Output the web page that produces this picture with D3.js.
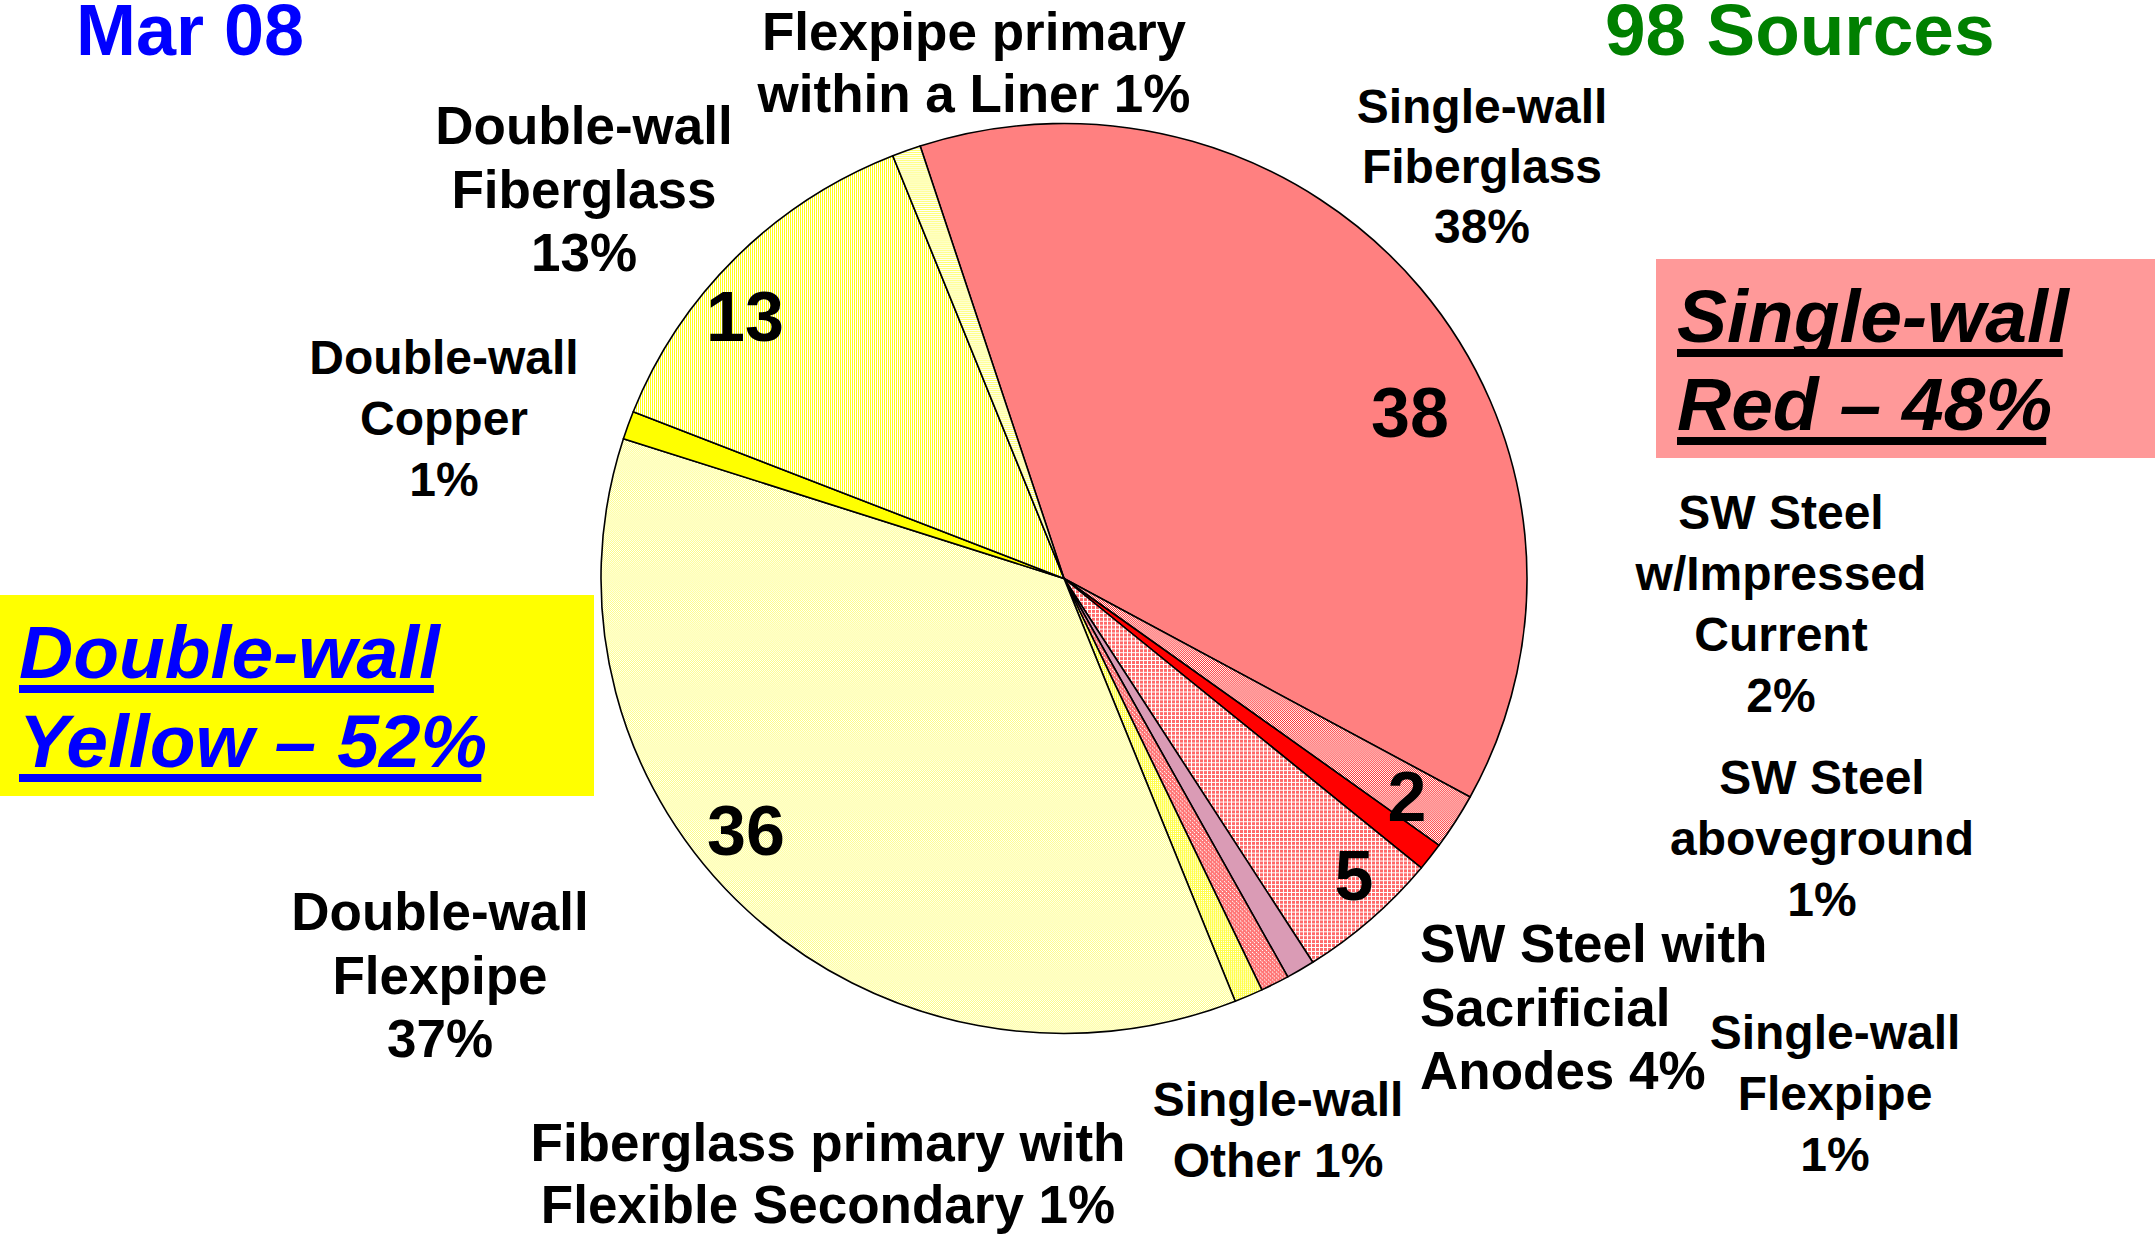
<!DOCTYPE html>
<html>
<head>
<meta charset="utf-8">
<script src="https://cdn.jsdelivr.net/npm/d3@7"></script>
<style>
  body { margin: 0; background: #fff; }
  svg text { font-family: "Liberation Sans", Arial, sans-serif; font-weight: bold; }
</style>
</head>
<body>
<script>
'use strict';

// slice data, clockwise from the top (start angle is rotated a bit left of 12 o'clock)
const categories = [
  "Single-wall Fiberglass",
  "SW Steel w/Impressed Current",
  "SW Steel aboveground",
  "SW Steel with Sacrificial Anodes",
  "Single-wall Flexpipe",
  "Single-wall Other",
  "Fiberglass primary with Flexible Secondary",
  "Double-wall Flexpipe",
  "Double-wall Copper",
  "Double-wall Fiberglass",
  "Flexpipe primary within a Liner"
];
const values = [38, 2, 1, 5, 1, 1, 1, 36, 1, 13, 1];
const fills = ["#FF8080", "url(#pImpressed)", "#FF0000", "url(#pSacrificial)", "#DA9BB5",
               "url(#pOther)", "url(#pFlexSec)", "url(#pDWFlex)", "#FFFF00", "url(#pDWFG)", "url(#pLiner)"];

// outside labels (lines) for each slice, same order as categories
const labelLines = [
  ["Single-wall", "Fiberglass", "38%"],
  ["SW Steel", "w/Impressed", "Current", "2%"],
  ["SW Steel", "aboveground", "1%"],
  ["SW Steel with", "Sacrificial", "Anodes 4%"],
  ["Single-wall", "Flexpipe", "1%"],
  ["Single-wall", "Other 1%"],
  ["Fiberglass primary with", "Flexible Secondary 1%"],
  ["Double-wall", "Flexpipe", "37%"],
  ["Double-wall", "Copper", "1%"],
  ["Double-wall", "Fiberglass", "13%"],
  ["Flexpipe primary", "within a Liner 1%"]
];
// value labels drawn inside the slices
const valueLabels = ["38", "2", "", "5", "", "", "", "36", "", "13", ""];

const width = 2155, height = 1235;
const cx = 1064, cy = 578.5, rx = 463, ry = 455;
const startAngle = -18.1 * Math.PI / 180;

// label layout: [x, first baseline, font size, line step, anchor]
const labelLayout = [
  [1482, 123, 48, 60, "middle"],
  [1781, 529, 48, 61, "middle"],
  [1822, 794, 48, 61, "middle"],
  [1420, 962, 53, 63.5, "start"],
  [1835, 1049, 48, 61, "middle"],
  [1278, 1116, 48, 61, "middle"],
  [828, 1161, 53, 62, "middle"],
  [440, 930, 53, 63.5, "middle"],
  [444, 374, 48, 61, "middle"],
  [584, 144, 53, 63.5, "middle"],
  [974, 50, 53, 62, "middle"]
];
const valueLayout = [[1410, 437], [1407, 821], null, [1354, 900], null, null, null,
                     [746, 855], null, [745, 341], null];

const svg = d3.select("body").append("svg")
  .attr("width", width)
  .attr("height", height);

// fill patterns
const defs = svg.append("defs");
function makePattern(id, w, h, bg, cells) {
  const p = defs.append("pattern")
    .attr("id", id)
    .attr("patternUnits", "userSpaceOnUse")
    .attr("width", w).attr("height", h);
  p.append("rect").attr("width", w).attr("height", h).attr("fill", bg);
  cells.forEach(c => {
    p.append("rect")
      .attr("x", c[0]).attr("y", c[1])
      .attr("width", c[2]).attr("height", c[3])
      .attr("fill", c[4])
      .attr("shape-rendering", "crispEdges");
  });
}
makePattern("pImpressed", 2, 2, "#fff", [[0, 0, 1, 1, "#FF3030"], [1, 1, 1, 1, "#FF3030"]]);
makePattern("pSacrificial", 4, 4, "#fff", [[0, 0, 3, 3, "#FF6A6A"]]);
makePattern("pOther", 4, 4, "#FF7878", [[0, 0, 1, 1, "#fff"], [2, 2, 1, 1, "#fff"], [1, 1, 1, 1, "#FFB0B0"]]);
makePattern("pFlexSec", 2, 2, "#FFFF50", [[1, 1, 1, 1, "#fff"]]);
makePattern("pDWFlex", 2, 2, "#fff", [[0, 0, 1, 1, "#FFFF80"], [1, 1, 1, 1, "#FFFF80"]]);
makePattern("pDWFG", 2, 2, "#fff", [[0, 0, 1, 2, "#FFFF20"]]);
makePattern("pLiner", 2, 2, "#fff", [[0, 0, 2, 1, "#FFFF70"]]);

// pie
const pie = d3.pie()
  .sort(null)
  .value(d => d)
  .startAngle(startAngle)
  .endAngle(startAngle + 2 * Math.PI);
const arc = d3.arc().innerRadius(0).outerRadius(rx);

svg.append("g")
  .attr("transform", `translate(${cx},${cy}) scale(1,${ry / rx})`)
  .selectAll("path")
  .data(pie(values))
  .enter()
  .append("path")
    .attr("d", arc)
    .attr("fill", (d, i) => fills[i])
    .attr("stroke", "#000")
    .attr("stroke-width", 1.6)
    .attr("stroke-linejoin", "round")
    .attr("vector-effect", "non-scaling-stroke");

// value labels inside
valueLabels.forEach((t, i) => {
  if (!t) return;
  svg.append("text")
    .attr("x", valueLayout[i][0])
    .attr("y", valueLayout[i][1])
    .attr("text-anchor", "middle")
    .style("font-size", "70px")
    .attr("fill", "#000")
    .text(t);
});

// outside category labels
labelLines.forEach((lines, i) => {
  const l = labelLayout[i];
  const t = svg.append("text")
    .attr("text-anchor", l[4])
    .style("font-size", l[2] + "px")
    .attr("fill", "#000");
  lines.forEach((s, k) => {
    t.append("tspan")
      .attr("x", l[0])
      .attr("y", l[1] + k * l[3])
      .text(s);
  });
});

// titles
svg.append("text")
  .attr("x", 76).attr("y", 55)
  .style("font-size", "72px")
  .attr("fill", "#0000FF")
  .text("Mar 08");
svg.append("text")
  .attr("x", 1605).attr("y", 55)
  .style("font-size", "73px")
  .attr("fill", "#008000")
  .text("98 Sources");

// summary boxes with underlined italic text
function summaryBox(box, color, textColor, lines, x, baselines) {
  svg.append("rect")
    .attr("x", box[0]).attr("y", box[1])
    .attr("width", box[2]).attr("height", box[3])
    .attr("fill", color);
  lines.forEach((s, k) => {
    const t = svg.append("text")
      .attr("x", x).attr("y", baselines[k])
      .style("font-size", "75px")
      .style("font-style", "italic")
      .attr("fill", textColor)
      .text(s);
    const len = t.node().getComputedTextLength();
    svg.append("rect")
      .attr("x", x).attr("y", baselines[k] + 7)
      .attr("width", len - 6).attr("height", 8)
      .attr("fill", textColor);
  });
}
summaryBox([0, 595, 594, 201], "#FFFF00", "#0000FF", ["Double-wall", "Yellow – 52%"], 19, [678, 767]);
summaryBox([1656, 259, 499, 199], "#FF9999", "#000000", ["Single-wall", "Red – 48%"], 1677, [342, 430]);
</script>
</body>
</html>
